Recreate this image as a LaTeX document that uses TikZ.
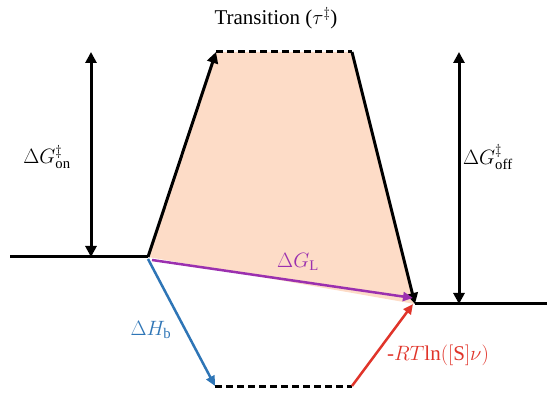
\documentclass[tikz,border=0pt]{standalone}
\usepackage{fontspec}
\setmainfont{Liberation Serif}
\usetikzlibrary{arrows.meta}
\definecolor{peach}{HTML}{FDDCC7}
\definecolor{lpurple}{HTML}{9B30AF}
\definecolor{lblue}{HTML}{2E75B6}
\definecolor{lred}{HTML}{E0342A}
\begin{document}
\begin{tikzpicture}[x=1pt,y=-1pt,
  blk/.style={line width=3pt,black},
  tip/.tip={Triangle[length=11pt,width=11pt]},
  ctip/.tip={Triangle[length=10pt,width=9pt]},
  colarr/.style={line width=2.5pt,-ctip},
  lbl/.style={font=\fontsize{21}{24}\selectfont}]
\useasboundingbox (0,0) rectangle (547,393);
\coordinate (L0) at (10,257);
\coordinate (BL) at (148,257);
\coordinate (TL) at (216,52);
\coordinate (TR) at (352,52);
\coordinate (BR) at (415,304);
\coordinate (R1) at (547,304);
\coordinate (DL) at (215,386);
\coordinate (DR) at (352,386);
\coordinate (OnT) at (91,52);
\coordinate (OnB) at (91,257);
\coordinate (OffT) at (459,52);
\coordinate (OffB) at (459,304);
\coordinate (GLs) at (152,260);
\coordinate (GLe) at (413,298);
\coordinate (HBs) at (148,259);
\coordinate (RTe) at (413,304);
\fill[peach] (BL) -- (TL) -- (TR) -- (BR) -- cycle;
\draw[blk] (L0) -- (BL);
\draw[blk] (BR) -- (R1);
\draw[blk,-tip] (BL) -- (TL);
\draw[blk,dash pattern=on 7pt off 4pt] (TL) -- (TR);
\draw[blk,-tip] (TR) -- (BR);
\draw[blk,dash pattern=on 7pt off 4pt] (DL) -- (DR);
\draw[blk,tip-tip] (OnT) -- (OnB);
\draw[blk,tip-tip] (OffT) -- (OffB);
\draw[colarr,lpurple] (GLs) -- (GLe);
\draw[colarr,lblue] (HBs) -- (DL);
\draw[colarr,lred] (DR) -- (RTe);
\node[lbl] (title) at (276,18) {Transition ($\tau^{\ddagger}$)};
\node[lbl] (on) at (47,157) {$\Delta G^{\ddagger}_{\mathrm{on}}$};
\node[lbl] (off) at (488,157) {$\Delta G^{\ddagger}_{\mathrm{off}}$};
\node[lbl,text=lpurple] (gl) at (298,262) {$\Delta G_{\mathrm{L}}$};
\node[lbl,text=lblue] (hb) at (151,330) {$\Delta H_{\mathrm{b}}$};
\node[lbl,text=lred] (rt) at (438,355) {-$RT\mathrm{ln}([\mathrm{S}]\nu)$};
\end{tikzpicture}
\end{document}
